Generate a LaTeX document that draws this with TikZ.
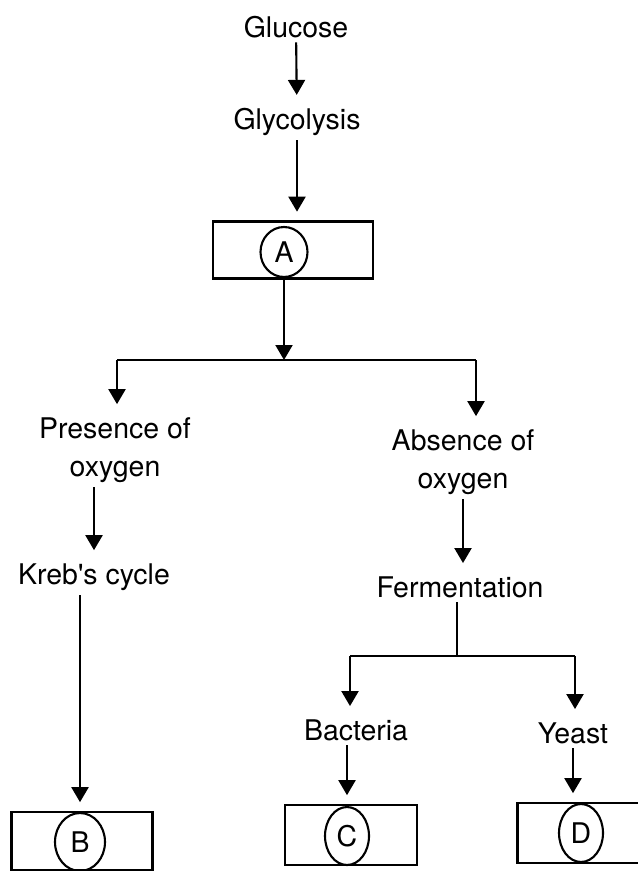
\documentclass[tikz,border=0pt]{standalone}
\usepackage{fontspec}
\setmainfont{TeX Gyre Heros}
\usetikzlibrary{shapes,arrows.meta,positioning,calc}

\begin{document}
\begin{tikzpicture}[x=0.02cm, y=-0.02cm, line width=1.2pt,
    every node/.style={font=\fontsize{16.2}{21.6}\selectfont},
    txt/.style={inner sep=2pt, align=center},
    box/.style={draw, minimum height=1.16cm},
    letter/.style={draw, ellipse, inner sep=0pt, minimum width=0.9cm, minimum height=1.16cm},
    arr/.style={-{Triangle[length=0.3cm,width=0.34cm]}, shorten >=5pt},
    tip/.style={-{Triangle[length=0.3cm,width=0.34cm]}}]
    \clip (0,0) rectangle (638,871);
    % main chain
    \node[txt] (glucose) at (296,27) {Glucose};
    \node[txt] (glycolysis) at (297,122) {Glycolysis};
    \node[box, minimum width=3.2cm, minimum height=1.14cm] (boxA) at (293,250) {};
    \node[letter, minimum width=0.94cm, minimum height=1.0cm] (letterA) at (284,252) {A};
    \draw[arr] (glucose) -- (glycolysis);
    \draw[arr] (glycolysis.south) -- (glycolysis.south |- boxA.north);
    % first split
    \coordinate (splitL) at (117,360);
    \coordinate (splitR) at (476,360);
    \draw[tip] (boxA.south -| letterA) -- (letterA |- splitL);
    \draw (splitL) -- (splitR);
    \node[txt] (presence) at (115,450) {Presence of\\oxygen};
    \node[txt] (absence) at (463,462) {Absence of\\oxygen};
    \draw[arr] (splitL) -- (splitL |- presence.north);
    \draw[arr] (splitR) -- (splitR |- absence.north);
    % aerobic side
    \node[txt] (kreb) at (94,577) {Kreb\textquotesingle s cycle};
    \node[box, minimum width=2.82cm] (boxB) at (82,841) {};
    \node[letter, minimum width=1.0cm] (letterB) at (80,842) {B};
    \draw[arr] (presence.south -| kreb) -- (kreb);
    \draw[arr] (kreb.south -| letterB) -- (letterB |- boxB.north);
    % anaerobic side
    \node[txt] (ferm) at (460,587) {Fermentation};
    \draw[arr] (absence.south) -- (absence.south |- ferm.north);
    \coordinate (fork) at (457,656);
    \coordinate (forkL) at (350,656);
    \coordinate (forkR) at (575,656);
    \draw (ferm.south -| fork) -- (fork);
    \draw (forkL) -- (forkR);
    \node[txt] (bacteria) at (356,730) {Bacteria};
    \node[txt] (yeast) at (573,733) {Yeast};
    \draw[arr] (forkL) -- (forkL |- bacteria.north);
    \draw[arr] (forkR) -- (forkR |- yeast.north);
    \node[box, minimum width=2.64cm, minimum height=1.2cm] (boxC) at (351,835) {};
    \node[letter, minimum width=0.88cm] (letterC) at (347,836) {C};
    \node[box, minimum width=2.66cm, minimum height=1.2cm] (boxD) at (584,833) {};
    \node[letter, minimum width=0.88cm] (letterD) at (581,833) {D};
    \draw[arr] (bacteria.south -| letterC) -- (letterC |- boxC.north);
    \draw[arr] (yeast.south) -- (yeast.south |- boxD.north);
\end{tikzpicture}
\end{document}
